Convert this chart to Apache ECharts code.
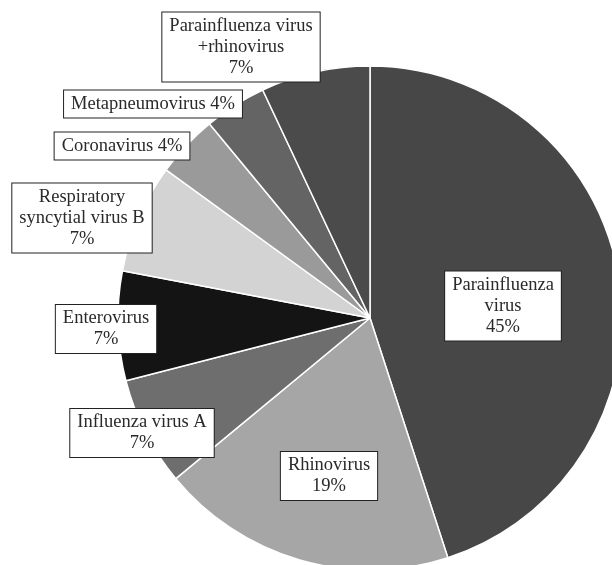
<!DOCTYPE html>
<html>
<head>
<meta charset="utf-8">
<script src="https://cdn.jsdelivr.net/npm/echarts@6/dist/echarts.min.js"></script>
<style>
html, body { margin: 0; padding: 0; background: #fff; }
#chart { width: 612px; height: 565px; }
</style>
</head>
<body>
<div id="chart"></div>
<script>
// slices, clockwise from 12 o'clock
const names = ['Parainfluenza virus', 'Rhinovirus', 'Influenza virus A', 'Enterovirus',
    'Respiratory syncytial virus B', 'Coronavirus', 'Metapneumovirus', 'Parainfluenza virus +rhinovirus'];
const labelText = ['Parainfluenza\nvirus', 'Rhinovirus', 'Influenza virus A', 'Enterovirus',
    'Respiratory\nsyncytial virus B', 'Coronavirus', 'Metapneumovirus', 'Parainfluenza virus\n+rhinovirus'];
const values = [45, 19, 7, 7, 7, 4, 4, 7];
const colors = ['#474747', '#a6a6a6', '#6e6e6e', '#141414', '#d3d3d3', '#9a9a9a', '#646464', '#4b4b4b'];
// the short ones put the percent on the same line
const inlinePct = [false, false, false, false, false, true, true, false];
// label box centres
const labelPos = [[503, 306], [329, 476], [142, 433], [106, 329], [82, 218], [122, 146], [153, 104], [241, 47]];

const chart = echarts.init(document.getElementById('chart'));
const option = {
    animation: false,
    series: [{
        type: 'pie',
        center: [370, 318],
        radius: 252,
        startAngle: 90,
        clockwise: true,
        data: names.map((n, i) => ({ name: n, value: values[i], itemStyle: { color: colors[i] } })),
        itemStyle: { borderColor: '#fff', borderWidth: 1.5 },
        label: {
            show: true,
            position: 'inside',
            formatter: p => labelText[p.dataIndex] + (inlinePct[p.dataIndex] ? ' ' : '\n') + Math.round(p.percent) + '%',
            fontFamily: '"Liberation Serif", "Times New Roman", serif',
            fontSize: 18.5,
            lineHeight: 21,
            color: '#2a2a2a',
            align: 'center',
            backgroundColor: '#fff',
            borderColor: '#222',
            borderWidth: 1,
            padding: [4, 7, 2, 7]
        },
        labelLine: { show: false },
        labelLayout: p => ({
            x: labelPos[p.dataIndex][0],
            y: labelPos[p.dataIndex][1],
            align: 'center',
            verticalAlign: 'middle'
        })
    }]
};
chart.setOption(option);
</script>
</body>
</html>
